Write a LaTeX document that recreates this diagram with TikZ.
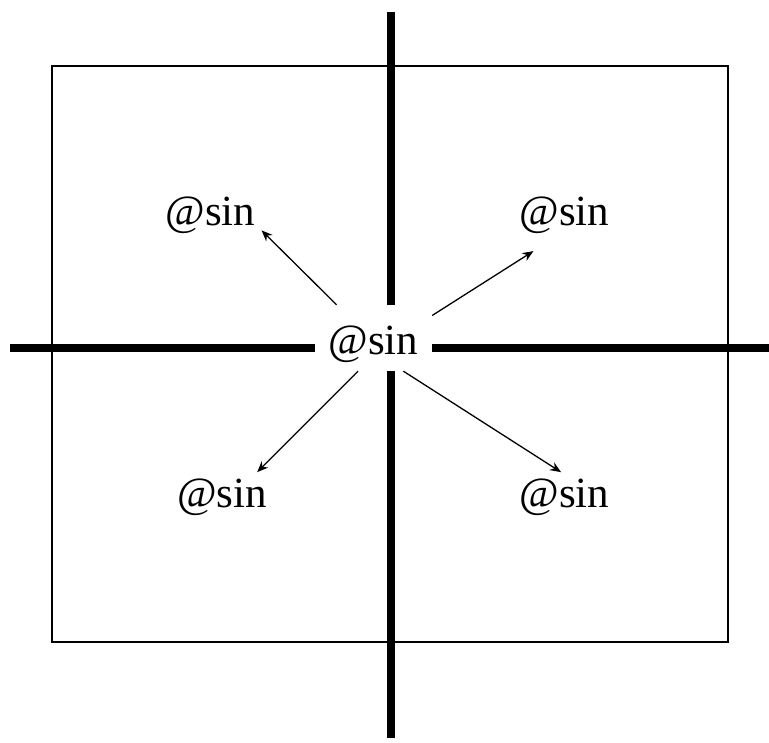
\documentclass[tikz,border=0pt]{standalone}
\usepackage{fontspec}
\setmainfont{Liberation Serif}
\usetikzlibrary{arrows.meta}
\tikzset{
    term/.style={rectangle, inner sep=6pt, anchor=base, font=\fontsize{43}{50}\selectfont},
    hub/.style={rectangle, inner sep=0pt, minimum width=117pt, minimum height=66pt, text height=34pt, text depth=0pt, font=\fontsize{43}{50}\selectfont},
    axis/.style={line width=8pt},
    frame/.style={line width=1.3pt},
    link/.style={line width=1.3pt, -{Stealth[length=11pt, width=9pt]}}
}

\begin{document}
\begin{tikzpicture}[x=1pt, y=-1pt]
    \useasboundingbox (0,0) rectangle (769,743);
    \draw[frame] (52,66) rectangle (728,642);

    \node[hub] (c) at (373.5,338) {@sin};
    \node[term] (tl) at (210.5,226) {@sin};
    \node[term] (tr) at (564.5,226) {@sin};
    \node[term] (bl) at (222,507) {@sin};
    \node[term] (br) at (564.5,507) {@sin};

    % axes, broken round the middle label
    \coordinate (top) at (391,12);
    \coordinate (bottom) at (391,738);
    \coordinate (left) at (10,348);
    \coordinate (right) at (769,348);
    \draw[axis] (top) -- (top |- c.north);
    \draw[axis] (bottom |- c.south) -- (bottom);
    \draw[axis] (left) -- (c.west |- left);
    \draw[axis] (c.east |- right) -- (right);

    \draw[link] (c.138) -- (tl.344);
    \draw[link, shorten >=20pt] (c.21) -- (tr.240);
    \draw[link] (c.245) -- (bl.35);
    \draw[link] (c.312) -- (br.98);
\end{tikzpicture}
\end{document}
